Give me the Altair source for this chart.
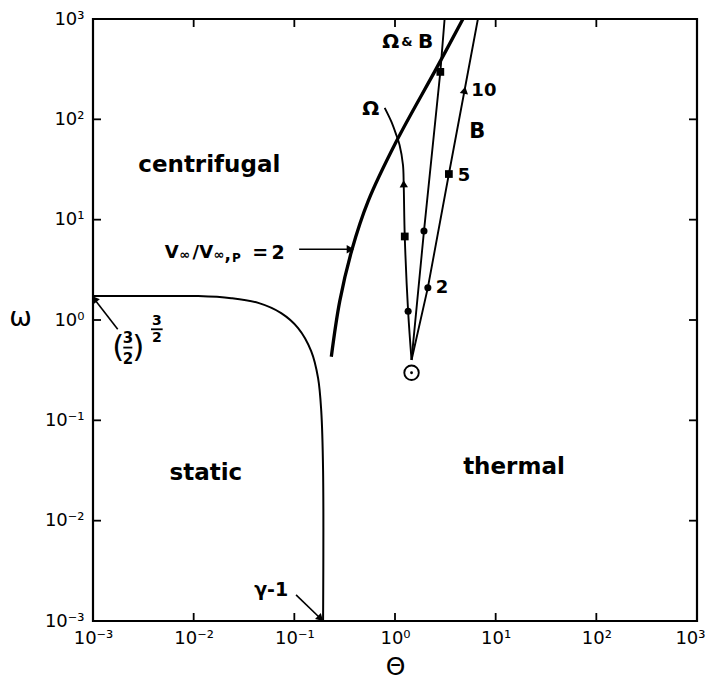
import json
import altair as alt
import pandas as pd

W, H = 604, 602
FONT = "DejaVu Sans"

# ---------------- data ----------------
tick_values = [0.001, 0.01, 0.1, 1, 10, 100, 1000]
tick_labels = ["10⁻³", "10⁻²", "10⁻¹", "10⁰", "10¹", "10²", "10³"]

# static / centrifugal boundary
static_theta = [0.001, 0.0045, 0.0111, 0.0236, 0.0438, 0.074, 0.109, 0.147, 0.172, 0.185, 0.193, 0.193]
static_omega = [1.73, 1.73, 1.73, 1.65, 1.48, 1.17, 0.83, 0.49, 0.265, 0.125, 0.0316, 0.001]

# V_inf / V_inf,P = 2 curve
vinf_theta = [0.233, 0.283, 0.374, 0.54, 1.03, 2.57, 4.73]
vinf_omega = [0.43, 1.55, 5.04, 15.2, 60, 320, 1000]

# tracks starting at the circled point
start_theta, start_omega = 1.46, 0.298
omega_theta = [1.46, 1.35, 1.25, 1.22, 1.20, 1.11, 1.03, 0.92, 0.79]
omega_omega = [0.40, 1.22, 6.8, 22.8, 35.2, 55.6, 69.8, 94.7, 130]
ob_theta = [1.46, 1.94, 2.82, 3.11]
ob_omega = [0.40, 7.7, 297, 1000]
b_theta = [1.46, 2.12, 3.43, 4.91, 6.66]
b_omega = [0.40, 2.1, 28.5, 195, 1000]

# markers on the tracks
mark_theta = [1.35, 1.94, 2.12, 1.25, 2.82, 3.43, 1.22, 4.91]
mark_omega = [1.22, 7.7, 2.1, 6.8, 297, 28.5, 22.8, 195]
mark_shape = ["circle", "circle", "circle", "square", "square", "square", "triangle-up", "triangle-up"]
mark_angle = [0, 0, 0, 0, 0, 0, -2, 11]

# region labels
region_text = ["centrifugal", "static", "thermal"]
region_theta = [0.0143, 0.0132, 15.2]
region_omega = [35.4, 0.0296, 0.0339]

# small labels (text, theta, omega, font size)
small_text = ["Ω", "Ω", "&", "B", "B", "10", "5", "2", "γ-1",
              "V", "∞", "/", "V", "∞", ",", "P", "=", "2",
              "3", "2", "3", "2"]
small_theta = [0.574, 0.906, 1.315, 2.017, 6.55, 7.64, 4.84, 2.93, 0.0589,
               0.00607, 0.00816, 0.01050, 0.01330, 0.01780, 0.02180, 0.02650, 0.0458, 0.0690,
               0.00223, 0.00223, 0.00431, 0.00431]
small_omega = [128, 590, 590, 590, 74.1, 193, 27.4, 2.09, 0.00204,
               4.66, 4.40, 4.66, 4.66, 4.40, 4.45, 4.13, 4.66, 4.66,
               0.66, 0.405, 0.98, 0.665]
small_size = [20, 20, 13, 20, 21, 18, 18, 18, 19,
              18, 13, 18, 18, 13, 17, 12, 19, 19,
              15, 15, 14, 14]

# parentheses of (3/2)^(3/2)
paren_text = ["(", ")"]
paren_theta = [0.00178, 0.00282]
paren_omega = [0.53, 0.53]

# fraction bars of (3/2)^(3/2)
bar_theta = [0.00200, 0.00377]
bar_theta2 = [0.00246, 0.00492]
bar_omega = [0.531, 0.808]

# annotation arrows (start -> tip) and arrowhead angle
arrow_theta = [0.00176, 0.104, 0.1116]
arrow_omega = [0.808, 0.00182, 5.07]
arrow_theta2 = [0.00103, 0.182, 0.36]
arrow_omega2 = [1.62, 0.00106, 5.07]
arrow_angle = [323, 134, 90]

# ---------------- tables ----------------
def track(name, th, om):
    return pd.DataFrame({"theta": th, "omega": om, "i": range(len(th)), "name": name})

static_df = track("static", static_theta, static_omega)
vinf_df = track("vinf", vinf_theta, vinf_omega)
omega_df = track("Omega", omega_theta, omega_omega)
tracks_df = pd.concat([track("OB", ob_theta, ob_omega), track("B", b_theta, b_omega)])
marks_df = pd.DataFrame({"theta": mark_theta, "omega": mark_omega, "shape": mark_shape,
                         "angle": mark_angle,
                         "size": [50 if s == "circle" else (60 if s == "square" else 70) for s in mark_shape]})
start_df = pd.DataFrame({"theta": [start_theta], "omega": [start_omega]})
region_df = pd.DataFrame({"t": region_text, "theta": region_theta, "omega": region_omega})
small_df = pd.DataFrame({"t": small_text, "theta": small_theta, "omega": small_omega, "fs": small_size})
paren_df = pd.DataFrame({"t": paren_text, "theta": paren_theta, "omega": paren_omega})
bars_df = pd.DataFrame({"theta": bar_theta, "theta2": bar_theta2, "omega": bar_omega})
arrows_df = pd.DataFrame({"theta": arrow_theta, "omega": arrow_omega,
                          "theta2": arrow_theta2, "omega2": arrow_omega2, "angle": arrow_angle})
inner_ticks = pd.DataFrame({"v": tick_values[1:-1]})

label_expr = json.dumps(tick_labels, ensure_ascii=False) + "[round(log(datum.value)/LN10)+3]"

xscale = alt.Scale(type="log", domain=[1e-3, 1e3], nice=False)
yscale = alt.Scale(type="log", domain=[1e-3, 1e3], nice=False)

x_axis = alt.Axis(values=tick_values, labelExpr=label_expr, grid=False, ticks=False, domain=False,
                  labelFont=FONT, labelFontSize=18, labelColor="black", labelPadding=8,
                  labelFlush=False, labelOverlap=False,
                  labelAlign={"condition": {"test": "datum.value >= 999", "value": "right"}, "value": "center"},
                  labelOffset={"condition": {"test": "datum.value >= 999", "value": 8}, "value": 0},
                  title="Θ", titleFont=FONT, titleFontSize=25, titleFontWeight="normal",
                  titleColor="black", titlePadding=7)
y_axis = alt.Axis(values=tick_values, labelExpr=label_expr, grid=False, ticks=False, domain=False,
                  labelFont=FONT, labelFontSize=18, labelColor="black", labelPadding=9,
                  labelFlush=False, labelOverlap=False,
                  title="ω", titleFont=FONT, titleFontSize=27, titleFontWeight="normal",
                  titleColor="black", titleAngle=0, titleX=-73, titleY=298,
                  titleAlign="center", titleBaseline="middle")


def X(field="theta"):
    return alt.X(f"{field}:Q", scale=xscale, axis=x_axis)


def Y(field="omega"):
    return alt.Y(f"{field}:Q", scale=yscale, axis=y_axis)


static_line = alt.Chart(static_df).mark_line(color="black", strokeWidth=2, interpolate="catmull-rom", clip=True).encode(
    x=X(), y=Y(), order="i:O")
vinf_line = alt.Chart(vinf_df).mark_line(color="black", strokeWidth=3.3, interpolate="catmull-rom", clip=True).encode(
    x=X(), y=Y(), order="i:O")
omega_line = alt.Chart(omega_df).mark_line(color="black", strokeWidth=1.9, interpolate="catmull-rom", clip=True).encode(
    x=X(), y=Y(), order="i:O")
track_lines = alt.Chart(tracks_df).mark_line(color="black", strokeWidth=1.9, clip=True).encode(
    x=X(), y=Y(), order="i:O", detail="name:N")

markers = alt.Chart(marks_df).mark_point(filled=True, color="black", opacity=1).encode(
    x=X(), y=Y(),
    shape=alt.Shape("shape:N", scale=None),
    size=alt.Size("size:Q", scale=None),
    angle=alt.Angle("angle:Q", scale=None))

start_ring = alt.Chart(start_df).mark_point(shape="circle", filled=False, color="black", size=210,
                                            strokeWidth=1.9, opacity=1).encode(x=X(), y=Y())
start_dot = alt.Chart(start_df).mark_point(shape="circle", filled=True, color="black", size=8,
                                           opacity=1).encode(x=X(), y=Y())

arrow_lines = alt.Chart(arrows_df).mark_rule(color="black", strokeWidth=1.6).encode(
    x=X(), y=Y(), x2="theta2:Q", y2="omega2:Q")
arrow_heads = alt.Chart(arrows_df).mark_point(shape="triangle-up", filled=True, color="black",
                                              size=70, opacity=1).encode(
    x=X("theta2"), y=Y("omega2"),
    angle=alt.Angle("angle:Q", scale=None))

regions = alt.Chart(region_df).mark_text(font=FONT, fontSize=23, fontWeight="bold", color="black",
                                         align="center", baseline="middle").encode(
    x=X(), y=Y(), text="t:N")
smalls = alt.Chart(small_df).mark_text(font=FONT, fontWeight="bold", color="black",
                                       align="center", baseline="middle").encode(
    x=X(), y=Y(), text="t:N", size=alt.Size("fs:Q", scale=None))
parens = alt.Chart(paren_df).mark_text(font=FONT, fontSize=31, color="black",
                                       align="center", baseline="middle").encode(
    x=X(), y=Y(), text="t:N")
bars = alt.Chart(bars_df).mark_rule(color="black", strokeWidth=1.8).encode(
    x=X(), x2="theta2:Q", y=Y())

tick_b = alt.Chart(inner_ticks).mark_rule(color="black", strokeWidth=1.8).encode(
    x=X("v"), y=alt.value(H), y2=alt.value(H - 8))
tick_t = alt.Chart(inner_ticks).mark_rule(color="black", strokeWidth=1.8).encode(
    x=X("v"), y=alt.value(0), y2=alt.value(8))
tick_l = alt.Chart(inner_ticks).mark_rule(color="black", strokeWidth=1.8).encode(
    y=Y("v"), x=alt.value(0), x2=alt.value(8))
tick_r = alt.Chart(inner_ticks).mark_rule(color="black", strokeWidth=1.8).encode(
    y=Y("v"), x=alt.value(W), x2=alt.value(W - 8))

chart = alt.layer(
    static_line, vinf_line, omega_line, track_lines, markers, start_ring, start_dot,
    arrow_lines, arrow_heads, regions, smalls, parens, bars, tick_b, tick_t, tick_l, tick_r
).properties(
    width=W, height=H,
    autosize=alt.AutoSizeParams(type="none"),
    padding={"left": 85, "top": 11, "right": 9, "bottom": 60}
).configure(
    background="white"
).configure_view(
    stroke="black", strokeWidth=2.2
)

chart.save("out.html", embed_options={"renderer": "svg", "actions": False})
